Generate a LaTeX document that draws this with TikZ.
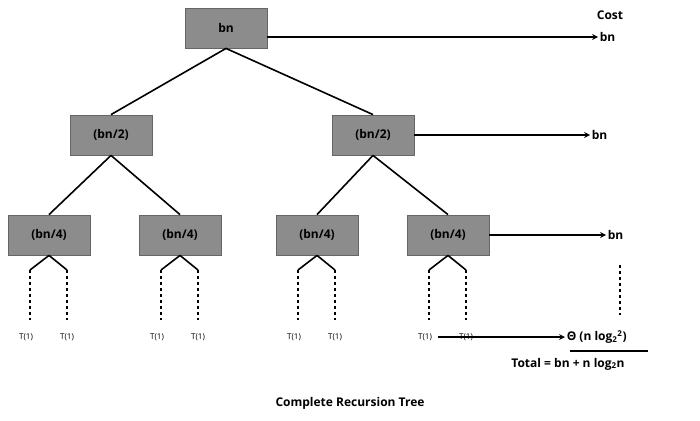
\documentclass[tikz,border=0pt]{standalone}
\usepackage{fontspec}
\setmainfont{Open Sans}
\usetikzlibrary{positioning}
\definecolor{boxgray}{RGB}{140,140,140}

\begin{document}
\begin{tikzpicture}[x=1pt,y=-1pt,line width=1.6pt,
	cell/.style={draw=black!60,line width=0.8pt,fill=boxgray,minimum width=82pt,minimum height=40pt,font=\bfseries\large},
	leaf/.style={font=\footnotesize,inner sep=1pt},
	cost/.style={font=\bfseries\large,inner sep=1pt}]
	\useasboundingbox (0,0) rectangle (700,420);
	% tree boxes
	\node[cell] (r) at (226,28) {bn};
	\node[cell] (a) at (111,135) {(bn/2)};
	\node[cell] (b) at (373,135) {(bn/2)};
	\node[cell] (aa) at (49,235) {(bn/4)};
	\node[cell] (ab) at (180,235) {(bn/4)};
	\node[cell] (ba) at (317,235) {(bn/4)};
	\node[cell] (bb) at (448,235) {(bn/4)};
	\draw (r.south) -- (a.north);
	\draw (r.south) -- (b.north);
	\draw (a.south) -- (aa.north);
	\draw (a.south) -- (ab.north);
	\draw (b.south) -- (ba.north);
	\draw (b.south) -- (bb.north);
	% leaves
	\foreach \n/\x in {aa/49,ab/180,ba/317,bb/448}{
		\node[leaf] (\n l) at (\x-23,337) {T(1)};
		\node[leaf] (\n r) at (\x+18,337) {T(1)};
		\draw (\n.south) -- (\x-19,270) coordinate (\n p);
		\draw (\n.south) -- (\x+18,270) coordinate (\n q);
		\draw[dashed] (\n p) -- (\x-19,320);
		\draw[dashed] (\n q) -- (\x+18,320);
	}
	% costs
	\node[cost] (ct) at (610,15) {Cost};
	\node[cost,anchor=west] (c1) at (598,37) {bn};
	\node[cost,anchor=west] (c2) at (590,135) {bn};
	\node[cost,anchor=west] (c3) at (606,235) {bn};
	\node[cost,anchor=west] (c4) at (565,337) {Θ (n log\textsubscript{2}\textsuperscript{2})};
	\node[cost] (tot) at (568,364) {Total = bn + n log\textsubscript{2}n};
	\draw[-stealth] (r.east |- c1) -- (c1.west);
	\draw[-stealth] (b.east) -- (c2.west);
	\draw[-stealth] (bb.east) -- (c3.west);
	\draw[-stealth] (bbl.east) ++(4,0) -- (c4.west);
	\draw[dashed] (620,265) -- (620,315);
	\draw[line width=1.2pt] (570,351) -- (648,351);
	\node[cost] (title) at (350,403) {Complete Recursion Tree};
\end{tikzpicture}
\end{document}
